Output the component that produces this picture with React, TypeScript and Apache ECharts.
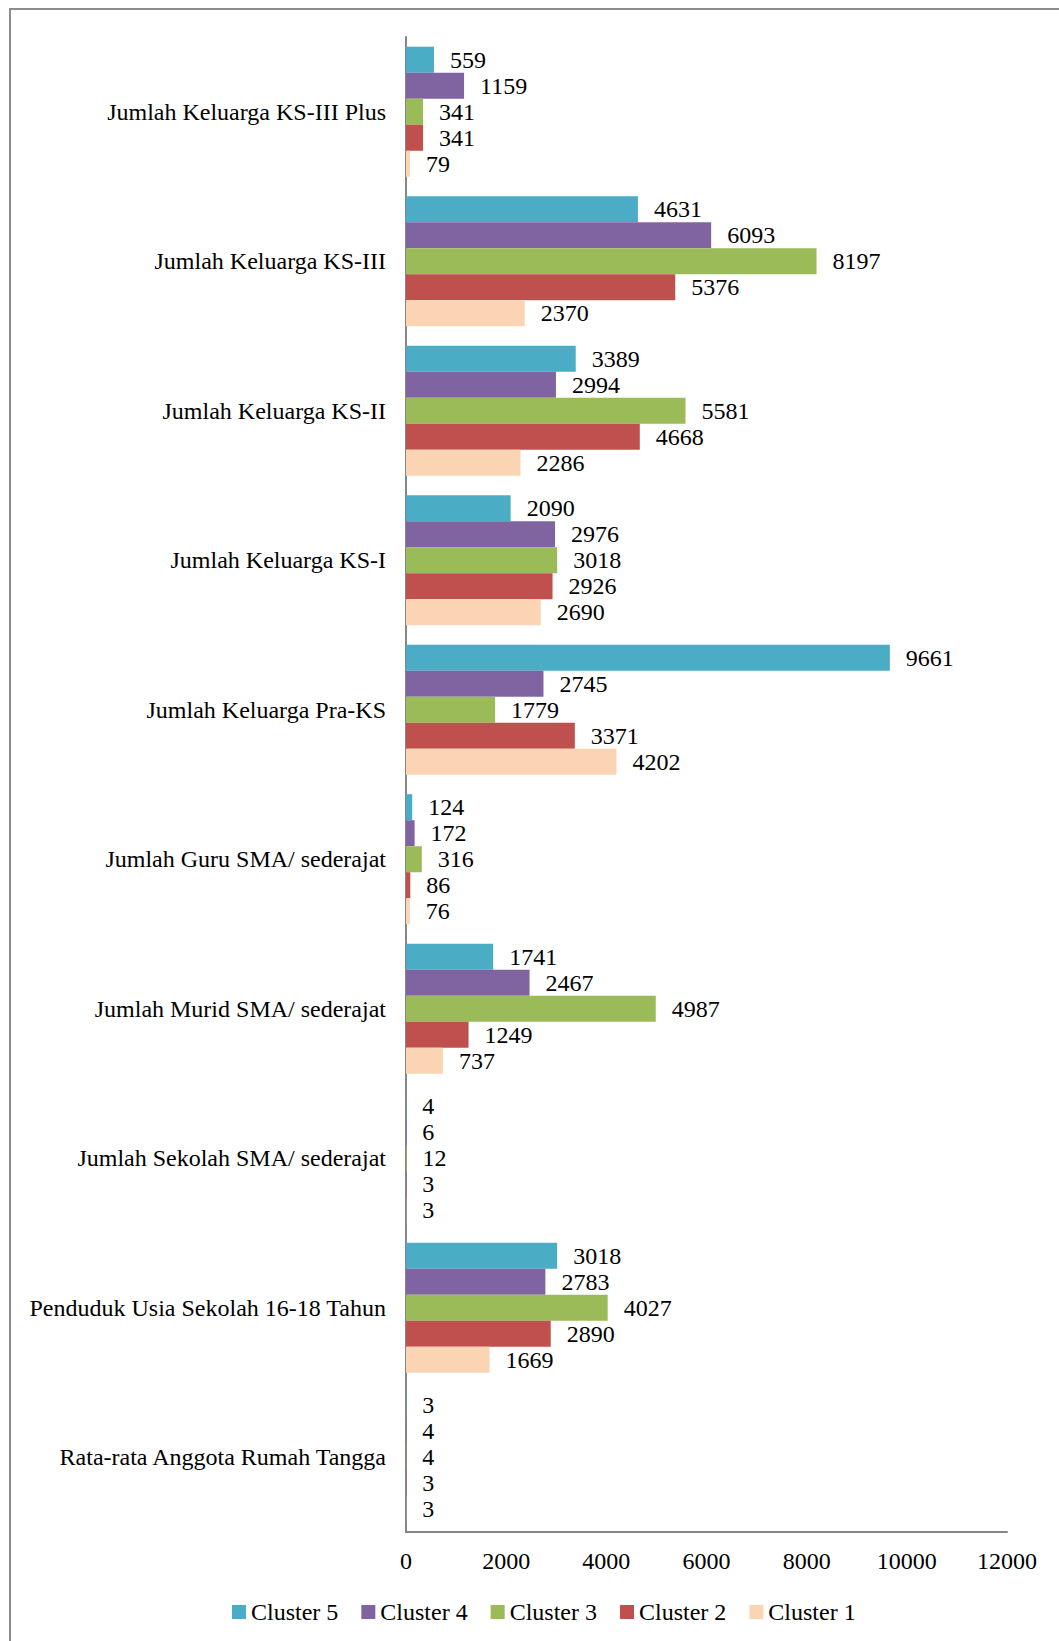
import React, { useEffect, useRef } from "react";
import * as echarts from "echarts";

const categories = [
  "Jumlah Keluarga KS-III Plus",
  "Jumlah Keluarga KS-III",
  "Jumlah Keluarga KS-II",
  "Jumlah Keluarga KS-I",
  "Jumlah Keluarga Pra-KS",
  "Jumlah Guru SMA/ sederajat",
  "Jumlah Murid SMA/ sederajat",
  "Jumlah Sekolah SMA/ sederajat",
  "Penduduk Usia Sekolah 16-18 Tahun",
  "Rata-rata Anggota Rumah Tangga",
];

const seriesNames = ["Cluster 5", "Cluster 4", "Cluster 3", "Cluster 2", "Cluster 1"];
const cluster5 = [559, 4631, 3389, 2090, 9661, 124, 1741, 4, 3018, 3];
const cluster4 = [1159, 6093, 2994, 2976, 2745, 172, 2467, 6, 2783, 4];
const cluster3 = [341, 8197, 5581, 3018, 1779, 316, 4987, 12, 4027, 4];
const cluster2 = [341, 5376, 4668, 2926, 3371, 86, 1249, 3, 2890, 3];
const cluster1 = [79, 2370, 2286, 2690, 4202, 76, 737, 3, 1669, 3];
const colors = ["#4BACC6", "#8064A2", "#9BBB59", "#C0504D", "#FBD4B4"];

const FONT = "Liberation Serif";

export default function App() {
  const ref = useRef<HTMLDivElement>(null);
  useEffect(() => {
    if (!ref.current) return;
    const chart = echarts.init(ref.current, undefined, { renderer: "svg" });
    const data = [cluster5, cluster4, cluster3, cluster2, cluster1];
    chart.setOption({
      animation: false,
      backgroundColor: "#fff",
      textStyle: { fontFamily: FONT },
      graphic: [
        {
          type: "rect",
          shape: { x: 10, y: 9, width: 1200, height: 1800 },
          style: { fill: "none", stroke: "#8c8c8c", lineWidth: 2 },
          silent: true,
        },
      ],
      legend: {
        data: seriesNames,
        left: 232,
        top: 1600,
        padding: 0,
        itemWidth: 14,
        itemHeight: 14,
        itemGap: 23,
        icon: "rect",
        textStyle: { fontFamily: FONT, fontSize: 24, color: "#000" },
      },
      grid: { left: 406, right: 52, top: 37, bottom: 109, containLabel: false },
      xAxis: {
        type: "value",
        min: 0,
        max: 12000,
        interval: 2000,
        axisLine: { show: true, lineStyle: { color: "#868686", width: 2 } },
        axisTick: { show: false },
        splitLine: { show: false },
        axisLabel: {
          fontFamily: FONT,
          fontSize: 24,
          color: "#000",
          margin: 17,
          formatter: (v: number) => String(v),
        },
      },
      yAxis: {
        type: "category",
        inverse: true,
        data: categories,
        axisLine: { show: true, lineStyle: { color: "#868686", width: 2 } },
        axisTick: { show: false },
        axisLabel: { fontFamily: FONT, fontSize: 24, color: "#000", margin: 20 },
      },
      series: seriesNames.map((name, i) => ({
        name,
        type: "bar",
        data: data[i],
        barGap: "0%",
        barCategoryGap: "13%",
        itemStyle: { color: colors[i] },
        label: {
          show: true,
          position: "right",
          distance: 16,
          fontFamily: FONT,
          fontSize: 24,
          color: "#000",
        },
      })),
    });
    return () => chart.dispose();
  }, []);
  return (
    <div
      ref={ref}
      style={{ position: "absolute", left: 0, top: 0, width: 1059, height: 1641 }}
    />
  );
}
